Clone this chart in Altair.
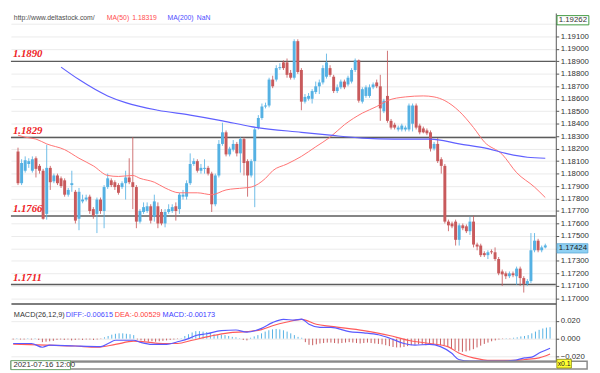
import altair as alt
import numpy as np
import pandas as pd

# ---------------- data ----------------
open_ = [1.18177, 1.17923, 1.18023, 1.18077, 1.18023, 1.18123, 1.18062, 1.18023, 1.17677, 1.18046,
         1.17938, 1.17985, 1.17962, 1.17946, 1.17831, 1.17908, 1.17854, 1.17638, 1.17777, 1.17792,
         1.17815, 1.17715, 1.17677, 1.17792, 1.17700, 1.17892, 1.17946, 1.17931, 1.17908, 1.17892,
         1.17923, 1.17969, 1.17931, 1.17892, 1.17615, 1.17692, 1.17700, 1.17738, 1.17654, 1.17738,
         1.17692, 1.17600, 1.17692, 1.17700, 1.17738, 1.17715, 1.17815, 1.17815, 1.17923, 1.18077,
         1.18100, 1.18023, 1.18038, 1.18046, 1.18000, 1.17754, 1.17985, 1.18238, 1.18331, 1.18154,
         1.18192, 1.18238, 1.18162, 1.18277, 1.18100, 1.17985, 1.18100, 1.18369, 1.18446, 1.18538,
         1.18546, 1.18754, 1.18754, 1.18846, 1.18892, 1.18892, 1.18808, 1.18769, 1.19062, 1.18831,
         1.18577, 1.18600, 1.18600, 1.18654, 1.18700, 1.18731, 1.18777, 1.18846, 1.18777, 1.18662,
         1.18692, 1.18738, 1.18715, 1.18738, 1.18831, 1.18908, 1.18577, 1.18623, 1.18623, 1.18692,
         1.18731, 1.18700, 1.18500, 1.18623, 1.18423, 1.18392, 1.18354, 1.18354, 1.18354, 1.18354,
         1.18400, 1.18546, 1.18385, 1.18362, 1.18346, 1.18331, 1.18200, 1.18238, 1.18115, 1.18062,
         1.17615, 1.17600, 1.17615, 1.17469, 1.17585, 1.17577, 1.17538, 1.17615, 1.17431, 1.17423,
         1.17362, 1.17346, 1.17377, 1.17369, 1.17315, 1.17215, 1.17200, 1.17177, 1.17200, 1.17177,
         1.17238, 1.17162, 1.17115, 1.17138, 1.17385, 1.17462, 1.17385, 1.17408]
high = [1.18208, 1.18115, 1.18138, 1.18123, 1.18138, 1.18138, 1.18077, 1.18038, 1.18231, 1.18062,
        1.18000, 1.18000, 1.17977, 1.17962, 1.17885, 1.18023, 1.17869, 1.17885, 1.17831, 1.17831,
        1.17831, 1.17731, 1.17808, 1.17808, 1.17908, 1.18000, 1.17962, 1.17946, 1.17923, 1.17938,
        1.18023, 1.18123, 1.18292, 1.17908, 1.17715, 1.17769, 1.17769, 1.17754, 1.17831, 1.17769,
        1.17715, 1.17715, 1.17754, 1.17754, 1.17769, 1.17846, 1.17869, 1.17946, 1.18162, 1.18123,
        1.18115, 1.18077, 1.18115, 1.18062, 1.18015, 1.18000, 1.18269, 1.18408, 1.18346, 1.18215,
        1.18269, 1.18254, 1.18292, 1.18292, 1.18115, 1.18115, 1.18369, 1.18469, 1.18562, 1.18569,
        1.18769, 1.18785, 1.18869, 1.18885, 1.18908, 1.18923, 1.18831, 1.19077, 1.19077, 1.18846,
        1.18638, 1.18646, 1.18677, 1.18738, 1.18754, 1.18869, 1.18962, 1.18869, 1.18792, 1.18715,
        1.18754, 1.18754, 1.18785, 1.18846, 1.18923, 1.18915, 1.18692, 1.18708, 1.18715, 1.18731,
        1.18754, 1.18792, 1.18600, 1.18985, 1.18438, 1.18408, 1.18385, 1.18400, 1.18385, 1.18562,
        1.18562, 1.18562, 1.18400, 1.18377, 1.18362, 1.18346, 1.18254, 1.18285, 1.18131, 1.18077,
        1.17631, 1.17615, 1.17631, 1.17600, 1.17600, 1.17592, 1.17654, 1.17662, 1.17446, 1.17438,
        1.17377, 1.17385, 1.17392, 1.17408, 1.17331, 1.17231, 1.17215, 1.17215, 1.17215, 1.17254,
        1.17254, 1.17177, 1.17154, 1.17523, 1.17523, 1.17477, 1.17423, 1.17438]
low = [1.17908, 1.17908, 1.18008, 1.18046, 1.18008, 1.17969, 1.18000, 1.17631, 1.17631, 1.17869,
       1.17923, 1.17908, 1.17885, 1.17815, 1.17815, 1.17854, 1.17600, 1.17546, 1.17762, 1.17777,
       1.17677, 1.17638, 1.17523, 1.17677, 1.17562, 1.17877, 1.17892, 1.17869, 1.17831, 1.17877,
       1.17792, 1.17915, 1.17715, 1.17562, 1.17600, 1.17677, 1.17685, 1.17600, 1.17615, 1.17562,
       1.17585, 1.17569, 1.17677, 1.17685, 1.17623, 1.17677, 1.17792, 1.17792, 1.17908, 1.18062,
       1.18008, 1.18000, 1.18000, 1.17985, 1.17692, 1.17738, 1.17969, 1.18223, 1.18138, 1.18138,
       1.18177, 1.18138, 1.18008, 1.17985, 1.17815, 1.17969, 1.17731, 1.18354, 1.18431, 1.18523,
       1.18531, 1.18685, 1.18738, 1.18831, 1.18831, 1.18769, 1.18754, 1.18754, 1.18800, 1.18508,
       1.18562, 1.18585, 1.18562, 1.18638, 1.18638, 1.18715, 1.18762, 1.18777, 1.18646, 1.18646,
       1.18677, 1.18677, 1.18700, 1.18723, 1.18815, 1.18569, 1.18562, 1.18608, 1.18608, 1.18677,
       1.18685, 1.18423, 1.18485, 1.18408, 1.18354, 1.18354, 1.18338, 1.18338, 1.18338, 1.18338,
       1.18338, 1.18354, 1.18315, 1.18323, 1.18308, 1.18177, 1.18185, 1.18085, 1.18000, 1.17600,
       1.17538, 1.17562, 1.17423, 1.17423, 1.17546, 1.17523, 1.17508, 1.17408, 1.17385, 1.17331,
       1.17331, 1.17315, 1.17354, 1.17300, 1.17185, 1.17100, 1.17154, 1.17162, 1.17169, 1.17108,
       1.17100, 1.17046, 1.17100, 1.17123, 1.17369, 1.17369, 1.17369, 1.17400]
close = [1.17923, 1.18085, 1.18108, 1.18100, 1.18115, 1.18038, 1.18023, 1.17638, 1.18046, 1.17931,
         1.17985, 1.17923, 1.17900, 1.17831, 1.17869, 1.17923, 1.17623, 1.17854, 1.17792, 1.17808,
         1.17700, 1.17662, 1.17792, 1.17700, 1.17892, 1.17962, 1.17908, 1.17892, 1.17846, 1.17923,
         1.17969, 1.17931, 1.17892, 1.17615, 1.17700, 1.17731, 1.17738, 1.17623, 1.17777, 1.17600,
         1.17600, 1.17692, 1.17715, 1.17731, 1.17700, 1.17831, 1.17831, 1.17923, 1.18077, 1.18100,
         1.18023, 1.18046, 1.18046, 1.18000, 1.17754, 1.17985, 1.18238, 1.18331, 1.18154, 1.18200,
         1.18238, 1.18162, 1.18277, 1.18085, 1.17985, 1.18100, 1.18354, 1.18446, 1.18538, 1.18546,
         1.18754, 1.18700, 1.18846, 1.18854, 1.18846, 1.18792, 1.18769, 1.19062, 1.18815, 1.18577,
         1.18615, 1.18623, 1.18662, 1.18700, 1.18731, 1.18846, 1.18892, 1.18792, 1.18662, 1.18692,
         1.18738, 1.18692, 1.18769, 1.18831, 1.18908, 1.18585, 1.18677, 1.18692, 1.18692, 1.18715,
         1.18700, 1.18523, 1.18585, 1.18423, 1.18369, 1.18369, 1.18369, 1.18385, 1.18369, 1.18546,
         1.18546, 1.18369, 1.18331, 1.18331, 1.18323, 1.18200, 1.18238, 1.18100, 1.18062, 1.17615,
         1.17585, 1.17577, 1.17469, 1.17585, 1.17562, 1.17538, 1.17615, 1.17431, 1.17415, 1.17346,
         1.17346, 1.17369, 1.17369, 1.17315, 1.17200, 1.17192, 1.17177, 1.17200, 1.17185, 1.17238,
         1.17162, 1.17115, 1.17138, 1.17385, 1.17462, 1.17385, 1.17408, 1.17424]

ma50_i = [0, 2, 5, 8, 13, 17, 21, 25, 28, 32, 34, 38, 41, 45, 50, 54, 58, 63, 65, 69,
          71, 75, 79, 83, 87, 91, 96, 100, 103, 108, 113, 116, 119, 123, 127, 130, 135, 139, 144, 147]
ma50_v = [1.18308, 1.18292, 1.18277, 1.18238, 1.18192, 1.18123, 1.18062, 1.17985, 1.17977, 1.17985,
          1.17962, 1.17931, 1.17885, 1.17846, 1.17846, 1.17831, 1.17869, 1.17885, 1.17892, 1.17962,
          1.18023, 1.18077, 1.18138, 1.18215, 1.18292, 1.18392, 1.18485, 1.18538, 1.18585, 1.18615,
          1.18623, 1.18615, 1.18585, 1.18500, 1.18369, 1.18254, 1.18154, 1.18008, 1.17892, 1.17808]

ma200_i = [12, 17, 25, 30, 39, 48, 57, 65, 79, 87, 96, 105, 115, 123, 131, 136, 142, 147]
ma200_v = [1.18854, 1.18754, 1.18623, 1.18569, 1.18508, 1.18469, 1.18423, 1.18377, 1.18331,
           1.18308, 1.18285, 1.18277, 1.18277, 1.18238, 1.18200, 1.18162, 1.18131, 1.18123]

level_prices = [1.1890, 1.1829, 1.1766, 1.1711]
level_labels = ["1.1890", "1.1829", "1.1766", "1.1711"]

price_ticks = [1.170, 1.171, 1.172, 1.173, 1.174, 1.175, 1.176, 1.177, 1.178, 1.179, 1.180, 1.181,
               1.182, 1.183, 1.184, 1.185, 1.186, 1.187, 1.188, 1.189, 1.190, 1.191, 1.192]
macd_ticks = [-0.02, 0.0, 0.02]

diff_i = [0, 5, 8, 10, 17, 24, 26, 28, 33, 35, 38, 42, 45, 48, 50, 53, 57, 61, 64, 68,
          71, 74, 77, 79, 81, 84, 87, 92, 96, 100, 103, 107, 110, 114, 117, 120, 122, 125, 129, 133,
          137, 140, 142, 144, 147]
diff_v = [-0.0055, -0.0055, -0.0098, -0.0073, -0.0084, -0.0091, -0.0055, -0.0018, -0.0018, -0.0044,
          -0.0066, -0.0066, -0.0036, 0.0000, 0.0036, 0.0055, 0.0091, 0.0098, 0.0073, 0.0117,
          0.0182, 0.0219, 0.0211, 0.0222, 0.0164, 0.0128, 0.0128, 0.0080, 0.0066, 0.0044,
          0.0007, -0.0055, -0.0073, -0.0066, -0.0091, -0.0164, -0.0237, -0.0255, -0.0255, -0.0255,
          -0.0248, -0.0219, -0.0211, -0.0164, -0.0109]
dea_i = [0, 9, 17, 23, 28, 33, 36, 41, 45, 49, 54, 59, 64, 68, 71, 75, 79, 83, 87, 96,
         103, 108, 114, 119, 122, 126, 131, 137, 140, 144, 147]
dea_v = [-0.0062, -0.0073, -0.0084, -0.0098, -0.0066, -0.0029, -0.0036, -0.0055, -0.0055, -0.0018,
         0.0029, 0.0066, 0.0080, 0.0102, 0.0146, 0.0189, 0.0218, 0.0164, 0.0139, 0.0091,
         0.0036, -0.0018, -0.0055, -0.0091, -0.0164, -0.0219, -0.0248, -0.0248, -0.0237, -0.0219,
         -0.0175]
hist = [-0.0010, 0.0005, -0.0010, -0.0010, 0.0005, -0.0010, 0.0005, -0.0015,
        -0.0040, -0.0035, -0.0030, -0.0025,
        -0.0015, -0.0010, -0.0015, -0.0010, -0.0020, -0.0015, -0.0010, -0.0015, -0.0010, -0.0010, -0.0015, -0.0010, -0.0005,
        0.0015, 0.0030, 0.0045, 0.0055, 0.0060, 0.0060, 0.0055, 0.0050, 0.0040,
        -0.0010, -0.0020, -0.0030, -0.0035, -0.0030, -0.0035, -0.0030, -0.0025, -0.0020, -0.0015, -0.0010, -0.0005, 0.0005,
        0.0030, 0.0050, 0.0070, 0.0085, 0.0085, 0.0080, 0.0075, 0.0065, 0.0050,
        0.0040, 0.0045, 0.0040, 0.0030, 0.0020, 0.0015, 0.0005, -0.0015, -0.0020, 0.0010,
        0.0025, 0.0040, 0.0060, 0.0080, 0.0095, 0.0105, 0.0110, 0.0105, 0.0095, 0.0080, 0.0060,
        0.0040, 0.0020, 0.0010,
        -0.0040, -0.0070, -0.0075, -0.0065,
        -0.0055, -0.0050, -0.0045, -0.0045, -0.0050, -0.0055, -0.0050, -0.0045, -0.0040, -0.0045,
        -0.0050, -0.0055, -0.0050, -0.0045, -0.0050, -0.0055, -0.0060, -0.0065, -0.0075, -0.0085,
        -0.0095, -0.0100, -0.0100, -0.0095, -0.0085,
        -0.0075, -0.0070, -0.0065, -0.0070, -0.0075, -0.0070, -0.0065, -0.0070, -0.0075, -0.0080, -0.0090,
        -0.0110, -0.0130, -0.0145, -0.0150, -0.0145, -0.0135, -0.0120,
        -0.0100, -0.0080, -0.0060, -0.0045, -0.0030,
        -0.0020, -0.0010, -0.0005, 0.0005, -0.0005,
        0.0010, 0.0015, 0.0025, 0.0030, 0.0040, 0.0060, 0.0080, 0.0100, 0.0115, 0.0125, 0.0130]

header_texts = ["http://www.deltastock.com/", "MA(50)", "1.18319", "MA(200)", "NaN"]
macd_texts = ["MACD(26,12,9)", "DIFF:-0.00615", "DEA:-0.00529", "MACD:-0.00173"]
last_price = [1.17424]
last_label = ["1.17424"]
top_label = ["1.19262"]
scale_label = ["x0.1"]
date_label = ["2021-07-16 12:00"]

# ---------------- layout ----------------
W = 557
H1 = 297
H2 = 59
H3 = 8

FONT = "Liberation Sans"
UP, DOWN = "#55b1e3", "#c85a5c"

n = len(close)
cdf = pd.DataFrame({"i": np.arange(n), "open": open_, "high": high, "low": low, "close": close})
cdf["dir"] = np.where(cdf["close"] >= cdf["open"], "up", "down")

x_scale = alt.Scale(domain=[-0.61, 148.57], nice=False, zero=False)
x_axis = alt.Axis(labels=False, ticks=False, grid=False, title=None,
                  domainColor="#7d7d7d", domainWidth=2)


def X():
    return alt.X("i:Q", scale=x_scale, axis=x_axis)


# labels hidden under the two price boxes, as in the original
p_axis = alt.Axis(orient="right", values=price_ticks, format=".5f", title=None,
                  labelExpr="(abs(datum.value - 1.174) < 0.0002 || datum.value > 1.1915) ? '' : datum.label",
                  grid=True, gridColor="#ebebeb", gridWidth=1,
                  tickSize=3, tickColor="#555555", domainColor="#555555",
                  labelFont=FONT, labelFontSize=8, labelColor="#333333",
                  labelPadding=1.5, labelOverlap=False)
p_scale = alt.Scale(domain=[1.16958, 1.19288], nice=False, zero=False)


def PY(field):
    return alt.Y(field, scale=p_scale, axis=p_axis)


col = alt.Color("dir:N", scale=alt.Scale(domain=["up", "down"], range=[UP, DOWN]), legend=None)

lv = pd.DataFrame({"price": level_prices, "label": level_labels})
levels = alt.Chart(lv).mark_rule(color="#5c5c5c", strokeWidth=1.5).encode(y=PY("price:Q"))
level_txt = alt.Chart(lv).mark_text(
    align="left", baseline="middle", dy=-7, font="Liberation Serif",
    fontStyle="italic", fontWeight="bold", fontSize=11, color="#ee1c25"
).encode(x=alt.value(2), y=PY("price:Q"), text="label:N")

wicks = alt.Chart(cdf).mark_rule(strokeWidth=1, opacity=0.85).encode(
    x=X(), y=PY("low:Q"), y2="high:Q", color=col)
bodies = alt.Chart(cdf).mark_bar(size=3).encode(
    x=X(), y=PY("open:Q"), y2="close:Q", color=col)

ma50 = alt.Chart(pd.DataFrame({"i": ma50_i, "v": ma50_v})).mark_line(
    color="#ff7272", strokeWidth=1, interpolate="monotone").encode(x=X(), y=PY("v:Q"))
ma200 = alt.Chart(pd.DataFrame({"i": ma200_i, "v": ma200_v})).mark_line(
    color="#6060ff", strokeWidth=1.2, interpolate="monotone").encode(x=X(), y=PY("v:Q"))

hdr_colors = ["#4d4d4d", "#ff4d4d", "#ff4d4d", "#4d4dff", "#4d4dff"]
hdr_x = [3, 98, 124, 160, 190]
hdr_layers = []
for t, c, px in zip(header_texts, hdr_colors, hdr_x):
    hdr_layers.append(
        alt.Chart(pd.DataFrame({"t": [t]})).mark_text(
            align="left", baseline="middle", font=FONT, fontSize=7, color=c
        ).encode(x=alt.value(px), y=alt.value(5.4), text="t:N"))

top_box = alt.Chart(pd.DataFrame({"t": top_label})).mark_point(
    shape="M-1,-0.29L1,-0.29L1,0.29L-1,0.29Z", size=1060, filled=True, fill="white",
    stroke="#3f9a3f", strokeWidth=1, opacity=1
).encode(x=alt.value(W + 17.5), y=alt.value(7.4))
top_txt = alt.Chart(pd.DataFrame({"t": top_label})).mark_text(
    align="left", baseline="middle", font=FONT, fontSize=8, color="#333333"
).encode(x=alt.value(W + 3), y=alt.value(7.4), text="t:N")

cur = pd.DataFrame({"price": last_price, "label": last_label})
cur_box = alt.Chart(cur).mark_point(
    shape="M-1,-0.3L1,-0.3L1,0.3L-1,0.3Z", size=1000, filled=True, fill="#8fd0f2",
    stroke="#5aaad8", strokeWidth=0.8, opacity=1, yOffset=3
).encode(x=alt.value(W + 17), y=PY("price:Q"))
cur_txt = alt.Chart(cur).mark_text(
    align="left", baseline="middle", font=FONT, fontSize=8, color="#1a1a1a", yOffset=3
).encode(x=alt.value(W + 3), y=PY("price:Q"), text="label:N")

main = alt.layer(levels, wicks, bodies, ma50, ma200, level_txt, *hdr_layers,
                 top_box, top_txt, cur_box, cur_txt).properties(width=W, height=H1)

# ---------------- MACD panel ----------------
m_scale = alt.Scale(domain=[-0.0257, 0.0399], nice=False, zero=False)
m_axis = alt.Axis(orient="right", values=macd_ticks, format=".3f", title=None,
                  grid=True, gridColor="#ebebeb", tickSize=3, tickColor="#555555",
                  domainColor="#555555", labelFont=FONT, labelFontSize=8,
                  labelColor="#333333", labelPadding=1.5, labelOverlap=False)
mx_axis = alt.Axis(labels=False, ticks=False, grid=False, title=None,
                   domainColor="#8a8a8a", domainWidth=2)


def MX():
    return alt.X("i:Q", scale=x_scale, axis=mx_axis)


def MY(field):
    return alt.Y(field, scale=m_scale, axis=m_axis)


hdf = pd.DataFrame({"i": np.arange(n), "hist": hist})
hdf["sign"] = np.where(hdf["hist"] >= 0, "pos", "neg")
hbars = alt.Chart(hdf).mark_rule(strokeWidth=1).encode(
    x=MX(), y=MY("hist:Q"), y2=alt.datum(0),
    color=alt.Color("sign:N", scale=alt.Scale(domain=["pos", "neg"], range=["#8ccbec", "#e2a2a2"]),
                    legend=None))
dea = alt.Chart(pd.DataFrame({"i": dea_i, "v": dea_v})).mark_line(
    color="#ff5a5a", strokeWidth=1.2, interpolate="monotone").encode(x=MX(), y=MY("v:Q"))
diff = alt.Chart(pd.DataFrame({"i": diff_i, "v": diff_v})).mark_line(
    color="#5a5aff", strokeWidth=1.2, interpolate="monotone").encode(x=MX(), y=MY("v:Q"))

m_colors = ["#333333", "#4a4aff", "#ff4040", "#4040ff"]
m_x = [3, 56, 106, 155]
m_layers = []
for t, c, px in zip(macd_texts, m_colors, m_x):
    m_layers.append(
        alt.Chart(pd.DataFrame({"t": [t]})).mark_text(
            align="left", baseline="middle", font=FONT, fontSize=7.5, color=c
        ).encode(x=alt.value(px), y=alt.value(11.3), text="t:N"))

macd = alt.layer(hbars, dea, diff, *m_layers).properties(width=W, height=H2)

# ---------------- time bar ----------------
dbox = alt.Chart(pd.DataFrame({"t": date_label})).mark_point(
    shape="M-1,-0.15L1,-0.15L1,0.15L-1,0.15Z", size=3700, filled=True, fill="white",
    stroke="#6aa86a", strokeWidth=1, opacity=1
).encode(x=alt.value(30.5), y=alt.value(4))
dtxt = alt.Chart(pd.DataFrame({"t": date_label})).mark_text(
    align="left", baseline="middle", font=FONT, fontSize=8, color="#333333"
).encode(x=alt.value(2.5), y=alt.value(4), text="t:N")
x01_box = alt.Chart(pd.DataFrame({"t": scale_label})).mark_point(
    shape="M-1,-0.6L1,-0.6L1,0.6L-1,0.6Z", size=220, filled=True, fill="#ffff33",
    stroke="#8a8a00", strokeWidth=0.8, opacity=1
).encode(x=alt.value(W + 8.5), y=alt.value(2.5))
x01_txt = alt.Chart(pd.DataFrame({"t": scale_label})).mark_text(
    align="center", baseline="middle", font=FONT, fontSize=7, color="#222222"
).encode(x=alt.value(W + 8.5), y=alt.value(2.5), text="t:N")
bottom = alt.layer(dbox, dtxt, x01_box, x01_txt).properties(
    width=W + 32, height=H3,
    view=alt.ViewBackground(stroke="#8a8a8a", strokeWidth=1.5))

chart = alt.vconcat(main, macd, bottom, spacing=0, bounds="flush").properties(
    padding=0, background="white"
).configure_view(stroke="transparent")

chart.save("out.html", embed_options={"renderer": "svg", "actions": False})
